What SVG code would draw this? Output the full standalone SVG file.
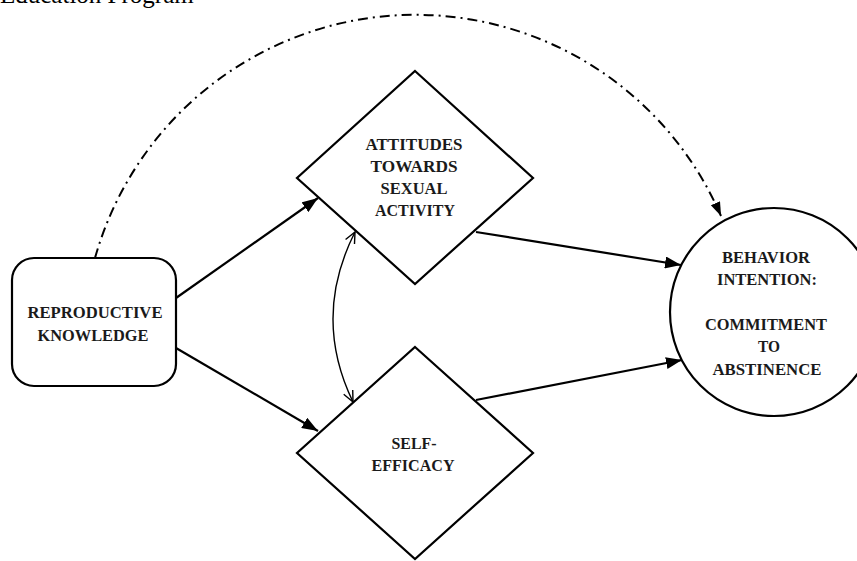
<svg xmlns="http://www.w3.org/2000/svg" width="857" height="561" viewBox="0 0 857 561">
<defs>
<style>
.shape{fill:#fff;stroke:#000;stroke-width:2.2}
.lbl{font-family:"Liberation Serif","Times New Roman",serif;font-weight:bold;font-size:17.5px;fill:#1a1a1a;text-anchor:middle}
.conn{fill:none;stroke:#000;stroke-width:2.2}
.thin{fill:none;stroke:#000;stroke-width:1.4}
.dashdot{fill:none;stroke:#000;stroke-width:2;stroke-dasharray:10 5 2 5}
</style>
<marker id="arr" markerUnits="userSpaceOnUse" markerWidth="17" markerHeight="12" refX="16" refY="6" orient="auto">
<path d="M0,0 L16,6 L0,12 z" fill="#000"/>
</marker>
<marker id="arrSmall" markerUnits="userSpaceOnUse" markerWidth="15" markerHeight="11" refX="14" refY="5" orient="auto">
<path d="M0,0 L14,5 L0,10 z" fill="#000"/>
</marker>
<marker id="open" markerUnits="userSpaceOnUse" markerWidth="14" markerHeight="12" refX="12" refY="6" orient="auto-start-reverse">
<path d="M1,1 L12,6 L1,11" fill="none" stroke="#000" stroke-width="1.4"/>
</marker>
</defs>
<rect width="857" height="561" fill="#fff"/>
<text x="0" y="3" font-family="Liberation Serif, Times New Roman, serif" font-size="25" fill="#000">Education Program</text>
<g id="connectors">
<path class="dashdot" d="M95 258 A333 334 0 0 1 721 216" marker-end="url(#arrSmall)"/>
<line class="conn" x1="176" y1="298" x2="318" y2="198" marker-end="url(#arr)"/>
<line class="conn" x1="176" y1="348" x2="318" y2="431" marker-end="url(#arr)"/>
<line class="conn" x1="476" y1="232" x2="681" y2="265" marker-end="url(#arr)"/>
<line class="conn" x1="476" y1="400" x2="682" y2="360" marker-end="url(#arr)"/>
<path class="thin" d="M355 232 Q312 317 353 402" marker-start="url(#open)" marker-end="url(#open)"/>
</g>
<g id="reproductive-knowledge">
<rect class="shape" x="12" y="258" width="164" height="128" rx="22" ry="22"/>
<text class="lbl" x="95" y="318" textLength="135" lengthAdjust="spacingAndGlyphs">REPRODUCTIVE</text>
<text class="lbl" x="93" y="341" textLength="111" lengthAdjust="spacingAndGlyphs">KNOWLEDGE</text>
</g>
<g id="attitudes">
<polygon class="shape" points="415,71 533,178 415,284 297,178"/>
<text class="lbl" x="414" y="150" textLength="97" lengthAdjust="spacingAndGlyphs">ATTITUDES</text>
<text class="lbl" x="414" y="172" textLength="87" lengthAdjust="spacingAndGlyphs">TOWARDS</text>
<text class="lbl" x="414" y="194" textLength="67" lengthAdjust="spacingAndGlyphs">SEXUAL</text>
<text class="lbl" x="415" y="216" textLength="80" lengthAdjust="spacingAndGlyphs">ACTIVITY</text>
</g>
<g id="self-efficacy">
<polygon class="shape" points="415,347 533,453 415,559 297,453"/>
<text class="lbl" x="414" y="449" textLength="45" lengthAdjust="spacingAndGlyphs">SELF-</text>
<text class="lbl" x="413" y="471" textLength="83" lengthAdjust="spacingAndGlyphs">EFFICACY</text>
</g>
<g id="behavior-intention">
<circle class="shape" cx="774" cy="312" r="104"/>
<text class="lbl" x="766" y="263" textLength="88" lengthAdjust="spacingAndGlyphs">BEHAVIOR</text>
<text class="lbl" x="767" y="285" textLength="100" lengthAdjust="spacingAndGlyphs">INTENTION:</text>
<text class="lbl" x="766" y="330" textLength="122" lengthAdjust="spacingAndGlyphs">COMMITMENT</text>
<text class="lbl" x="769" y="352" textLength="22" lengthAdjust="spacingAndGlyphs">TO</text>
<text class="lbl" x="767" y="375" textLength="109" lengthAdjust="spacingAndGlyphs">ABSTINENCE</text>
</g>
</svg>
